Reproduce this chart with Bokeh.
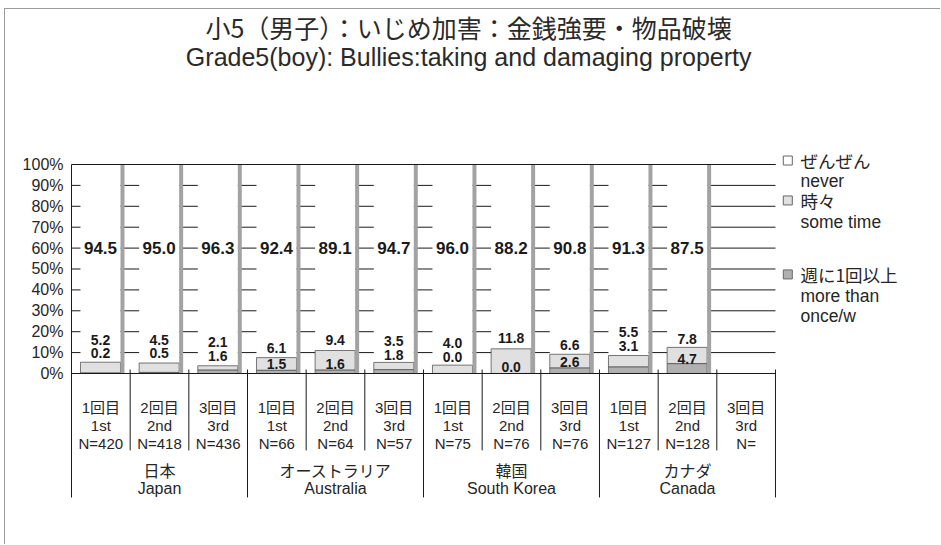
from bokeh.plotting import figure
from bokeh.models import Range1d, FixedTicker, Label
from bokeh.core.properties import value
from bokeh.embed import file_html
from bokeh.resources import INLINE

# ---------------- data ----------------
title_jp = "小5（男子）：いじめ加害：金銭強要・物品破壊"
title_en = "Grade5(boy): Bullies:taking and damaging property"

countries_jp = ["日本", "オーストラリア", "韓国", "カナダ"]
countries_en = ["Japan", "Australia", "South Korea", "Canada"]
rounds_jp = ["1回目", "2回目", "3回目"]
rounds_en = ["1st", "2nd", "3rd"]
n_labels = ["N=420", "N=418", "N=436", "N=66", "N=64", "N=57",
            "N=75", "N=76", "N=76", "N=127", "N=128", "N="]

never = [94.5, 95.0, 96.3, 92.4, 89.1, 94.7, 96.0, 88.2, 90.8, 91.3, 87.5, None]
sometimes = [5.2, 4.5, 2.1, 6.1, 9.4, 3.5, 4.0, 11.8, 6.6, 5.5, 7.8, None]
weekly = [0.2, 0.5, 1.6, 1.5, 1.6, 1.8, 0.0, 0.0, 2.6, 3.1, 4.7, None]

legend_jp = ["ぜんぜん", "時々", "週に1回以上"]
legend_en = [["never"], ["some time"], ["more than", "once/w"]]

y_ticks = [0, 10, 20, 30, 40, 50, 60, 70, 80, 90, 100]

# label placements (data units), kept apart from the values
never_label_y = 60.0
some_label_y = [16.0, 16.0, 15.0, 12.0, 16.0, 15.5, 14.5, 17.0, 13.5, 20.0, 16.5]
weekly_label_y = [9.8, 9.8, 8.5, 4.5, 4.5, 9.0, 8.0, 3.2, 5.5, 13.0, 7.0]

# ---------------- styling ----------------
LAT = "Liberation Sans"
JP = "Noto Sans CJK JP"
MIX = "Liberation Sans, Noto Sans CJK JP"
INK = "#1a1a1a"
TXT = "#262626"
C_SOME = "#e0e0e0"
C_WEEK = "#b0b0b0"
C_SHADOW = "#a3a3a3"

n_cat = len(n_labels)
p = figure(width=936, height=536, output_backend="svg", toolbar_location=None,
           x_range=Range1d(0, 14.83), y_range=Range1d(-82.3, 174.16),
           x_axis_location=None,
           min_border_left=66, min_border_right=0,
           min_border_top=0, min_border_bottom=0)
p.styles = {"margin-left": "4px", "margin-top": "8px",
            "border-left": "1px solid #9c9c9c", "border-top": "1px solid #9c9c9c"}
p.outline_line_color = None
p.background_fill_color = "white"
p.border_fill_color = "white"
p.xgrid.visible = False
p.ygrid.visible = False

ax = p.yaxis[0]
ax.ticker = FixedTicker(ticks=y_ticks)
ax.bounds = (-59.3, 100)
ax.major_label_overrides = {t: f"{t}%" for t in y_ticks}
ax.major_tick_out = 0
ax.major_tick_in = 0
ax.minor_tick_out = 0
ax.minor_tick_in = 0
ax.axis_line_color = INK
ax.axis_line_width = 1
ax.major_label_text_font = LAT
ax.major_label_text_font_size = "16px"
ax.major_label_text_color = TXT
ax.major_label_standoff = 8

# horizontal grid lines across the category area only
p.segment(x0=[0] * len(y_ticks), x1=[n_cat] * len(y_ticks), y0=y_ticks, y1=y_ticks,
          line_color=INK, line_width=1)

# ---------------- bars ----------------
idx = [i for i in range(n_cat) if never[i] is not None]
L = [i + 0.153 for i in idx]
R = [i + 0.835 for i in idx]
w = [weekly[i] for i in idx]
s = [sometimes[i] for i in idx]
nv = [never[i] for i in idx]
t_some = [a + b for a, b in zip(w, s)]
t_never = [a + b for a, b in zip(t_some, nv)]

p.quad(left=L, right=R, bottom=t_some, top=t_never, fill_color="white", line_color=None)
p.quad(left=L, right=R, bottom=w, top=t_some, fill_color=C_SOME,
       line_color="#555555", line_width=0.8)
p.quad(left=L, right=R, bottom=[0] * len(idx), top=w, fill_color=C_WEEK,
       line_color="#555555", line_width=0.8)
p.quad(left=R, right=[i + 0.903 for i in idx], bottom=[0] * len(idx), top=t_never,
       fill_color=C_SHADOW, line_color=None)

# top (100%) and base (0%) lines drawn over the bars
p.segment(x0=[0, 0], x1=[n_cat, n_cat], y0=[0, 100], y1=[0, 100],
          line_color=INK, line_width=1.2)

# value labels
xc = [i + 0.494 for i in idx]
p.text(x=xc, y=[never_label_y] * len(idx), text=[f"{v:.1f}" for v in nv],
       text_align="center", text_baseline="middle", text_font=value(LAT),
       text_font_style="bold", text_font_size="17px", text_color=INK)
p.text(x=xc, y=some_label_y, text=[f"{v:.1f}" for v in s],
       text_align="center", text_baseline="middle", text_font=value(LAT),
       text_font_style="bold", text_font_size="14px", text_color=INK)
p.text(x=xc, y=weekly_label_y, text=[f"{v:.1f}" for v in w],
       text_align="center", text_baseline="middle", text_font=value(LAT),
       text_font_style="bold", text_font_size="14px", text_color=INK)

# ---------------- category axis (below) ----------------
inner = [i for i in range(1, n_cat + 1) if i % 3 != 0]
outer = [i for i in range(3, n_cat + 1, 3)]
p.segment(x0=inner, x1=inner, y0=[1.9] * len(inner), y1=[-36.8] * len(inner),
          line_color=INK, line_width=1)
p.segment(x0=outer, x1=outer, y0=[1.9] * len(outer), y1=[-59.3] * len(outer),
          line_color=INK, line_width=1)

cx = [i + 0.5 for i in range(n_cat)]
p.text(x=cx, y=[-16.3] * n_cat, text=[rounds_jp[i % 3] for i in range(n_cat)],
       text_align="center", text_baseline="middle", text_font=value(MIX),
       text_font_size="15px", text_color=TXT)
p.text(x=cx, y=[-24.9] * n_cat, text=[rounds_en[i % 3] for i in range(n_cat)],
       text_align="center", text_baseline="middle", text_font=value(LAT),
       text_font_size="15px", text_color=TXT)
p.text(x=cx, y=[-33.5] * n_cat, text=n_labels,
       text_align="center", text_baseline="middle", text_font=value(LAT),
       text_font_size="15px", text_color=TXT)
gx = [3 * g + 1.5 for g in range(len(countries_en))]
p.text(x=gx, y=[-46.4] * len(gx), text=countries_jp,
       text_align="center", text_baseline="middle", text_font=value(JP),
       text_font_size="16px", text_color=TXT)
p.text(x=gx, y=[-55.0] * len(gx), text=countries_en,
       text_align="center", text_baseline="middle", text_font=value(LAT),
       text_font_size="16px", text_color=TXT)

# ---------------- titles ----------------
p.add_layout(Label(x=6.77, y=165.6, text=title_jp, text_align="center",
                   text_baseline="middle", text_font=JP, text_font_size="25px",
                   text_color="#2a2a2a"))
p.add_layout(Label(x=6.77, y=151.2, text=title_en, text_align="center",
                   text_baseline="middle", text_font=LAT, text_font_size="25px",
                   text_color="#2a2a2a"))

# ---------------- legend ----------------
sq_fill = ["white", C_SOME, C_WEEK]
txt_y = [[101.9, 91.9], [82.8, 72.7], [47.4, 37.3, 27.3]]
p.scatter(x=[12.21] * 3, y=[t[0] for t in txt_y], marker="square", size=9,
          fill_color=sq_fill, line_color="#666666", line_width=1)
for k in range(3):
    lines = [legend_jp[k]] + legend_en[k]
    for j, t in enumerate(lines):
        p.add_layout(Label(x=12.425, y=txt_y[k][j], text=t, text_align="left",
                           text_baseline="middle", text_font=(JP if j == 0 else LAT),
                           text_font_size="17.5px", text_color=TXT))

open("out.html", "w").write(file_html(p, INLINE))
